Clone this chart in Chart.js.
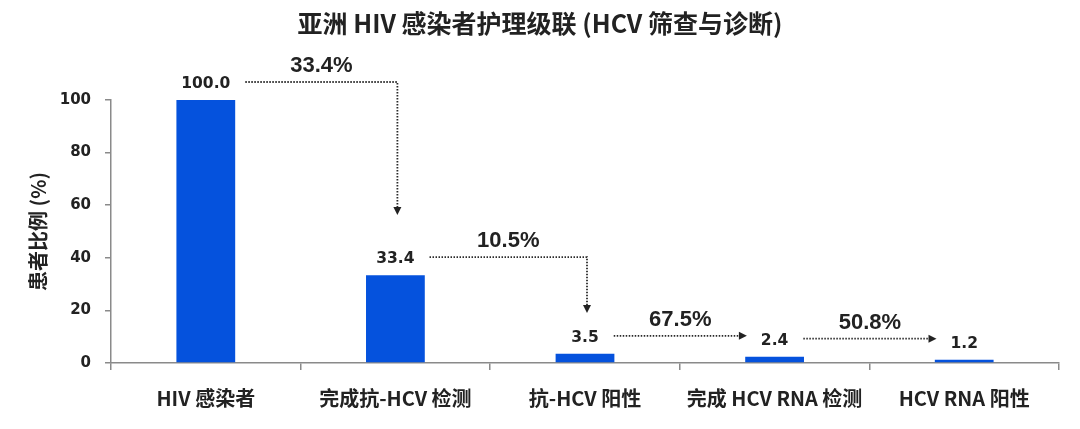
<!DOCTYPE html>
<html><head><meta charset="utf-8">
<script src="https://cdn.jsdelivr.net/npm/chart.js@4/dist/chart.umd.min.js"></script>
<style>html,body{margin:0;padding:0;background:#fff;} #wrap{width:1080px;height:429px;position:relative;}</style>
</head><body><div id="wrap"><canvas id="c" width="1080" height="429"></canvas></div>
<script>
const chartTitle = '亚洲 HIV 感染者护理级联 (HCV 筛查与诊断)';
const yAxisTitle = '患者比例 (%)';
const categories = ['HIV 感染者', '完成抗-HCV 检测', '抗-HCV 阳性', '完成 HCV RNA 检测', 'HCV RNA 阳性'];
const values = [100.0, 33.4, 3.5, 2.4, 1.2];
const valueLabels = ['100.0', '33.4', '3.5', '2.4', '1.2'];
const stepRates = ['33.4%', '10.5%', '67.5%', '50.8%'];
const yTicks = [0, 20, 40, 60, 80, 100];
const elbowTipValues = [56.3, 19.0, null, null];

const NUM_FONT = '"DejaVu Sans", sans-serif';
const CJK_FONT = '"Noto Sans CJK SC", sans-serif';
const AXIS_COLOR = '#8a8a8a';
const TEXT_COLOR = '#222222';

const annotPlugin = {
  id: 'annot',
  afterDatasetsDraw(chart) {
    const ctx = chart.ctx;
    const meta = chart.getDatasetMeta(0);
    const ys = chart.scales.y;
    ctx.save();
    ctx.font = 'bold 15.5px ' + NUM_FONT;
    ctx.fillStyle = TEXT_COLOR;
    ctx.textAlign = 'center';
    ctx.textBaseline = 'middle';
    const lab = meta.data.map((b, i) => ({ x: b.x, y: b.y - 16, hw: ctx.measureText(valueLabels[i]).width / 2 }));
    lab.forEach((l, i) => ctx.fillText(valueLabels[i], l.x, l.y));

    for (let i = 0; i < stepRates.length; i++) {
      const s = lab[i], t = lab[i + 1];
      const y0 = s.y - 2;
      const x0 = s.x + s.hw + 15;
      let x1;
      ctx.strokeStyle = '#2a2a2a';
      ctx.fillStyle = '#222';
      ctx.lineWidth = 1.8;
      ctx.setLineDash([1.5, 1.5]);
      ctx.beginPath();
      if (elbowTipValues[i] != null) {
        x1 = t.x + 2;
        const tipY = ys.getPixelForValue(elbowTipValues[i]);
        ctx.moveTo(x0, y0);
        ctx.lineTo(x1, y0);
        ctx.lineTo(x1, tipY - 7);
        ctx.stroke();
        ctx.setLineDash([]);
        ctx.beginPath();
        ctx.moveTo(x1 - 4, tipY - 8);
        ctx.lineTo(x1 + 4, tipY - 8);
        ctx.lineTo(x1, tipY);
        ctx.closePath();
        ctx.fill();
      } else {
        x1 = t.x - t.hw - 14;
        ctx.moveTo(x0, y0);
        ctx.lineTo(x1 - 7, y0);
        ctx.stroke();
        ctx.setLineDash([]);
        ctx.beginPath();
        ctx.moveTo(x1 - 8, y0 - 4);
        ctx.lineTo(x1 - 8, y0 + 4);
        ctx.lineTo(x1, y0);
        ctx.closePath();
        ctx.fill();
      }
      ctx.font = 'bold 22px "Liberation Sans", Arial, sans-serif';
      ctx.fillStyle = TEXT_COLOR;
      ctx.fillText(stepRates[i], (x0 + x1) / 2, y0 - 16);
    }
    ctx.restore();
  }
};

new Chart(document.getElementById('c'), {
  type: 'bar',
  data: {
    labels: categories,
    datasets: [{
      data: values,
      backgroundColor: '#0552DD',
      borderWidth: 0,
      categoryPercentage: 1.0,
      barPercentage: 0.31
    }]
  },
  options: {
    responsive: false,
    devicePixelRatio: 1,
    animation: false,
    layout: { padding: { left: 21, right: 21, top: 0, bottom: 0 } },
    plugins: {
      legend: { display: false },
      tooltip: { enabled: false },
      title: {
        display: true,
        text: chartTitle,
        color: TEXT_COLOR,
        font: { family: CJK_FONT, size: 25, weight: 'bold', lineHeight: 1.2 },
        padding: { top: 8, bottom: 62 }
      }
    },
    scales: {
      x: {
        grid: { drawOnChartArea: false, drawTicks: true, tickLength: 7, color: AXIS_COLOR, lineWidth: 1.5 },
        border: { display: true, color: AXIS_COLOR, width: 1.5 },
        ticks: {
          color: TEXT_COLOR, padding: 16, maxRotation: 0, autoSkip: false,
          font: { family: CJK_FONT, size: 20, weight: 'bold', lineHeight: 1.2 }
        },
        afterFit(s) { s.height = 66; }
      },
      y: {
        min: 0, max: 100,
        grid: { drawOnChartArea: false, drawTicks: true, tickLength: 6, color: AXIS_COLOR, lineWidth: 1.5 },
        border: { display: true, color: AXIS_COLOR, width: 1.5 },
        afterBuildTicks(s) { s.ticks = yTicks.map(v => ({ value: v })); },
        ticks: {
          color: TEXT_COLOR, padding: 14,
          font: { family: NUM_FONT, size: 15, weight: 'bold' }
        },
        title: {
          display: true, text: yAxisTitle, color: TEXT_COLOR,
          font: { family: CJK_FONT, size: 20, weight: 'bold', lineHeight: 1.2 },
          padding: { top: 5, bottom: 0 }
        },
        afterFit(s) { s.width = 90; }
      }
    }
  },
  plugins: [annotPlugin]
});
</script>
</body></html>
